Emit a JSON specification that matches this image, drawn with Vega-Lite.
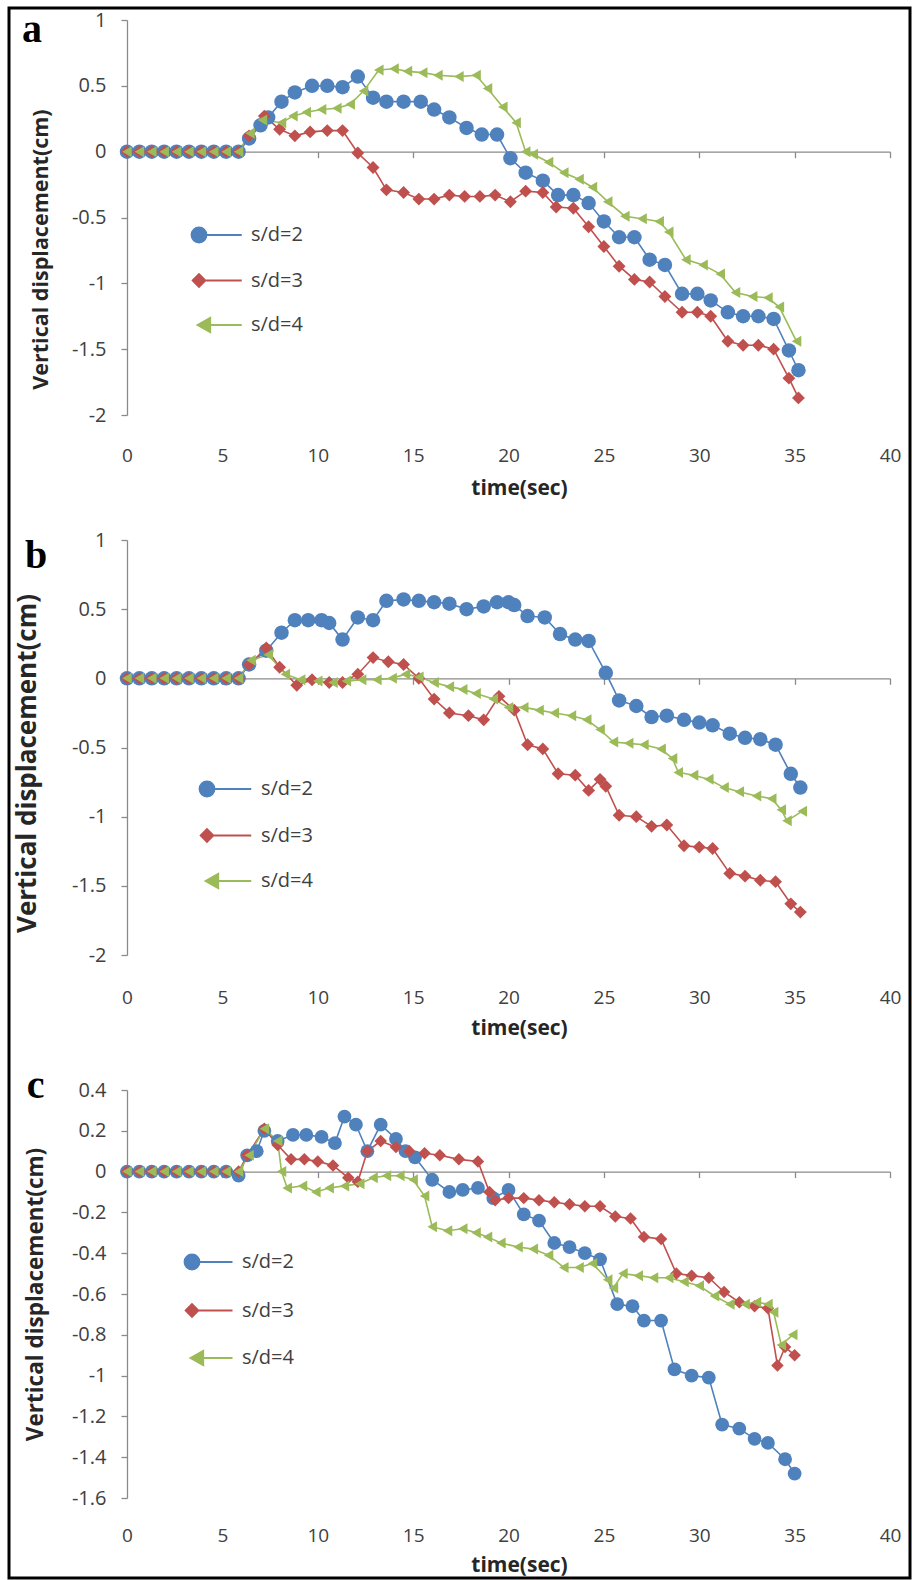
{
  "$schema": "https://vega.github.io/schema/vega-lite/v6.json",
  "width": 901,
  "height": 1570,
  "autosize": "none",
  "padding": {"left": 9, "top": 8, "right": 2, "bottom": 2},
  "background": "white",
  "config": {
    "view": {"stroke": "#000000", "strokeWidth": 3},
    "font": "Open Sans",
    "axis": {
      "grid": false,
      "labelFont": "Open Sans",
      "labelFontSize": 19,
      "labelColor": "#404040",
      "titleFont": "Open Sans",
      "titleFontWeight": "bold",
      "titleColor": "#262626",
      "domainColor": "#8a8a8a",
      "domainWidth": 1.3,
      "tickColor": "#8a8a8a",
      "tickWidth": 1.3,
      "labelFlush": false,
      "labelOverlap": false,
      "labelBound": false
    },
    "legend": {
      "labelFont": "Open Sans",
      "labelFontSize": 20,
      "labelColor": "#404040",
      "symbolSize": 225,
      "symbolStrokeWidth": 1.8,
      "symbolOpacity": 1
    }
  },
  "datasets": {
    "a": [
      {"t":0,"v":0,"series":"s/d=2"},{"t":0.65,"v":0,"series":"s/d=2"},{"t":1.3,"v":0,"series":"s/d=2"},{"t":1.95,"v":0,"series":"s/d=2"},{"t":2.6,"v":0,"series":"s/d=2"},{"t":3.25,"v":0,"series":"s/d=2"},{"t":3.9,"v":0,"series":"s/d=2"},{"t":4.55,"v":0,"series":"s/d=2"},{"t":5.2,"v":0,"series":"s/d=2"},{"t":5.85,"v":0,"series":"s/d=2"},
      {"t":6.4,"v":0.1,"series":"s/d=2"},{"t":7.0,"v":0.2,"series":"s/d=2"},{"t":7.4,"v":0.26,"series":"s/d=2"},{"t":8.1,"v":0.38,"series":"s/d=2"},{"t":8.8,"v":0.45,"series":"s/d=2"},{"t":9.7,"v":0.5,"series":"s/d=2"},{"t":10.5,"v":0.5,"series":"s/d=2"},{"t":11.3,"v":0.49,"series":"s/d=2"},{"t":12.1,"v":0.57,"series":"s/d=2"},{"t":12.9,"v":0.41,"series":"s/d=2"},{"t":13.6,"v":0.38,"series":"s/d=2"},{"t":14.5,"v":0.38,"series":"s/d=2"},{"t":15.4,"v":0.38,"series":"s/d=2"},{"t":16.1,"v":0.32,"series":"s/d=2"},{"t":16.9,"v":0.26,"series":"s/d=2"},{"t":17.8,"v":0.18,"series":"s/d=2"},{"t":18.6,"v":0.13,"series":"s/d=2"},{"t":19.4,"v":0.13,"series":"s/d=2"},{"t":20.1,"v":-0.05,"series":"s/d=2"},{"t":20.9,"v":-0.16,"series":"s/d=2"},{"t":21.8,"v":-0.22,"series":"s/d=2"},{"t":22.6,"v":-0.33,"series":"s/d=2"},{"t":23.4,"v":-0.33,"series":"s/d=2"},{"t":24.2,"v":-0.39,"series":"s/d=2"},{"t":25.0,"v":-0.53,"series":"s/d=2"},{"t":25.8,"v":-0.65,"series":"s/d=2"},{"t":26.6,"v":-0.65,"series":"s/d=2"},{"t":27.4,"v":-0.82,"series":"s/d=2"},{"t":28.2,"v":-0.86,"series":"s/d=2"},{"t":29.1,"v":-1.08,"series":"s/d=2"},{"t":29.9,"v":-1.08,"series":"s/d=2"},{"t":30.6,"v":-1.13,"series":"s/d=2"},{"t":31.5,"v":-1.22,"series":"s/d=2"},{"t":32.3,"v":-1.25,"series":"s/d=2"},{"t":33.1,"v":-1.25,"series":"s/d=2"},{"t":33.9,"v":-1.27,"series":"s/d=2"},{"t":34.7,"v":-1.51,"series":"s/d=2"},{"t":35.2,"v":-1.66,"series":"s/d=2"},
      {"t":0,"v":0,"series":"s/d=3"},{"t":0.65,"v":0,"series":"s/d=3"},{"t":1.3,"v":0,"series":"s/d=3"},{"t":1.95,"v":0,"series":"s/d=3"},{"t":2.6,"v":0,"series":"s/d=3"},{"t":3.25,"v":0,"series":"s/d=3"},{"t":3.9,"v":0,"series":"s/d=3"},{"t":4.55,"v":0,"series":"s/d=3"},{"t":5.2,"v":0,"series":"s/d=3"},{"t":5.85,"v":0,"series":"s/d=3"},
      {"t":6.4,"v":0.12,"series":"s/d=3"},{"t":7.2,"v":0.27,"series":"s/d=3"},{"t":8.0,"v":0.17,"series":"s/d=3"},{"t":8.8,"v":0.12,"series":"s/d=3"},{"t":9.6,"v":0.15,"series":"s/d=3"},{"t":10.5,"v":0.16,"series":"s/d=3"},{"t":11.3,"v":0.16,"series":"s/d=3"},{"t":12.1,"v":-0.01,"series":"s/d=3"},{"t":12.9,"v":-0.12,"series":"s/d=3"},{"t":13.6,"v":-0.29,"series":"s/d=3"},{"t":14.5,"v":-0.31,"series":"s/d=3"},{"t":15.3,"v":-0.36,"series":"s/d=3"},{"t":16.1,"v":-0.36,"series":"s/d=3"},{"t":16.9,"v":-0.33,"series":"s/d=3"},{"t":17.7,"v":-0.34,"series":"s/d=3"},{"t":18.5,"v":-0.34,"series":"s/d=3"},{"t":19.3,"v":-0.33,"series":"s/d=3"},{"t":20.1,"v":-0.38,"series":"s/d=3"},{"t":20.9,"v":-0.3,"series":"s/d=3"},{"t":21.8,"v":-0.31,"series":"s/d=3"},{"t":22.5,"v":-0.42,"series":"s/d=3"},{"t":23.4,"v":-0.43,"series":"s/d=3"},{"t":24.2,"v":-0.57,"series":"s/d=3"},{"t":25.0,"v":-0.72,"series":"s/d=3"},{"t":25.8,"v":-0.87,"series":"s/d=3"},{"t":26.6,"v":-0.97,"series":"s/d=3"},{"t":27.4,"v":-0.99,"series":"s/d=3"},{"t":28.2,"v":-1.1,"series":"s/d=3"},{"t":29.1,"v":-1.22,"series":"s/d=3"},{"t":29.9,"v":-1.22,"series":"s/d=3"},{"t":30.6,"v":-1.25,"series":"s/d=3"},{"t":31.5,"v":-1.44,"series":"s/d=3"},{"t":32.3,"v":-1.47,"series":"s/d=3"},{"t":33.1,"v":-1.47,"series":"s/d=3"},{"t":33.9,"v":-1.5,"series":"s/d=3"},{"t":34.7,"v":-1.72,"series":"s/d=3"},{"t":35.2,"v":-1.87,"series":"s/d=3"},
      {"t":0,"v":0,"series":"s/d=4"},{"t":0.65,"v":0,"series":"s/d=4"},{"t":1.3,"v":0,"series":"s/d=4"},{"t":1.95,"v":0,"series":"s/d=4"},{"t":2.6,"v":0,"series":"s/d=4"},{"t":3.25,"v":0,"series":"s/d=4"},{"t":3.9,"v":0,"series":"s/d=4"},{"t":4.55,"v":0,"series":"s/d=4"},{"t":5.2,"v":0,"series":"s/d=4"},{"t":5.85,"v":0,"series":"s/d=4"},
      {"t":6.45,"v":0.14,"series":"s/d=4"},{"t":7.1,"v":0.24,"series":"s/d=4"},{"t":8.1,"v":0.22,"series":"s/d=4"},{"t":8.7,"v":0.27,"series":"s/d=4"},{"t":9.4,"v":0.3,"series":"s/d=4"},{"t":10.2,"v":0.32,"series":"s/d=4"},{"t":11.0,"v":0.33,"series":"s/d=4"},{"t":11.7,"v":0.36,"series":"s/d=4"},{"t":12.4,"v":0.46,"series":"s/d=4"},{"t":13.2,"v":0.62,"series":"s/d=4"},{"t":14.0,"v":0.63,"series":"s/d=4"},{"t":14.7,"v":0.61,"series":"s/d=4"},{"t":15.5,"v":0.6,"series":"s/d=4"},{"t":16.3,"v":0.58,"series":"s/d=4"},{"t":17.4,"v":0.57,"series":"s/d=4"},{"t":18.3,"v":0.58,"series":"s/d=4"},{"t":18.9,"v":0.48,"series":"s/d=4"},{"t":19.7,"v":0.34,"series":"s/d=4"},{"t":20.4,"v":0.22,"series":"s/d=4"},{"t":20.9,"v":0.0,"series":"s/d=4"},{"t":21.3,"v":-0.02,"series":"s/d=4"},{"t":22.1,"v":-0.08,"series":"s/d=4"},{"t":22.9,"v":-0.16,"series":"s/d=4"},{"t":23.7,"v":-0.21,"series":"s/d=4"},{"t":24.4,"v":-0.27,"series":"s/d=4"},{"t":25.2,"v":-0.38,"series":"s/d=4"},{"t":26.1,"v":-0.49,"series":"s/d=4"},{"t":27.0,"v":-0.51,"series":"s/d=4"},{"t":27.9,"v":-0.53,"series":"s/d=4"},{"t":28.4,"v":-0.61,"series":"s/d=4"},{"t":29.3,"v":-0.82,"series":"s/d=4"},{"t":30.2,"v":-0.86,"series":"s/d=4"},{"t":31.1,"v":-0.93,"series":"s/d=4"},{"t":31.9,"v":-1.07,"series":"s/d=4"},{"t":32.8,"v":-1.1,"series":"s/d=4"},{"t":33.6,"v":-1.11,"series":"s/d=4"},{"t":34.2,"v":-1.18,"series":"s/d=4"},{"t":35.1,"v":-1.44,"series":"s/d=4"}
    ],
    "b": [
      {"t":0,"v":0,"series":"s/d=2"},{"t":0.65,"v":0,"series":"s/d=2"},{"t":1.3,"v":0,"series":"s/d=2"},{"t":1.95,"v":0,"series":"s/d=2"},{"t":2.6,"v":0,"series":"s/d=2"},{"t":3.25,"v":0,"series":"s/d=2"},{"t":3.9,"v":0,"series":"s/d=2"},{"t":4.55,"v":0,"series":"s/d=2"},{"t":5.2,"v":0,"series":"s/d=2"},{"t":5.85,"v":0,"series":"s/d=2"},
      {"t":6.4,"v":0.1,"series":"s/d=2"},{"t":7.3,"v":0.2,"series":"s/d=2"},{"t":8.1,"v":0.33,"series":"s/d=2"},{"t":8.8,"v":0.42,"series":"s/d=2"},{"t":9.5,"v":0.42,"series":"s/d=2"},{"t":10.2,"v":0.42,"series":"s/d=2"},{"t":10.6,"v":0.4,"series":"s/d=2"},{"t":11.3,"v":0.28,"series":"s/d=2"},{"t":12.1,"v":0.44,"series":"s/d=2"},{"t":12.9,"v":0.42,"series":"s/d=2"},{"t":13.6,"v":0.56,"series":"s/d=2"},{"t":14.5,"v":0.57,"series":"s/d=2"},{"t":15.3,"v":0.56,"series":"s/d=2"},{"t":16.1,"v":0.55,"series":"s/d=2"},{"t":16.9,"v":0.54,"series":"s/d=2"},{"t":17.8,"v":0.5,"series":"s/d=2"},{"t":18.7,"v":0.52,"series":"s/d=2"},{"t":19.4,"v":0.55,"series":"s/d=2"},{"t":20.0,"v":0.55,"series":"s/d=2"},{"t":20.3,"v":0.53,"series":"s/d=2"},{"t":21.0,"v":0.45,"series":"s/d=2"},{"t":21.9,"v":0.44,"series":"s/d=2"},{"t":22.7,"v":0.32,"series":"s/d=2"},{"t":23.5,"v":0.28,"series":"s/d=2"},{"t":24.2,"v":0.27,"series":"s/d=2"},{"t":25.1,"v":0.04,"series":"s/d=2"},{"t":25.8,"v":-0.16,"series":"s/d=2"},{"t":26.7,"v":-0.2,"series":"s/d=2"},{"t":27.5,"v":-0.28,"series":"s/d=2"},{"t":28.3,"v":-0.27,"series":"s/d=2"},{"t":29.2,"v":-0.3,"series":"s/d=2"},{"t":30.0,"v":-0.32,"series":"s/d=2"},{"t":30.7,"v":-0.34,"series":"s/d=2"},{"t":31.6,"v":-0.4,"series":"s/d=2"},{"t":32.4,"v":-0.43,"series":"s/d=2"},{"t":33.2,"v":-0.44,"series":"s/d=2"},{"t":34.0,"v":-0.48,"series":"s/d=2"},{"t":34.8,"v":-0.69,"series":"s/d=2"},{"t":35.3,"v":-0.79,"series":"s/d=2"},
      {"t":0,"v":0,"series":"s/d=3"},{"t":0.65,"v":0,"series":"s/d=3"},{"t":1.3,"v":0,"series":"s/d=3"},{"t":1.95,"v":0,"series":"s/d=3"},{"t":2.6,"v":0,"series":"s/d=3"},{"t":3.25,"v":0,"series":"s/d=3"},{"t":3.9,"v":0,"series":"s/d=3"},{"t":4.55,"v":0,"series":"s/d=3"},{"t":5.2,"v":0,"series":"s/d=3"},{"t":5.85,"v":0,"series":"s/d=3"},
      {"t":6.4,"v":0.1,"series":"s/d=3"},{"t":7.3,"v":0.22,"series":"s/d=3"},{"t":8.0,"v":0.08,"series":"s/d=3"},{"t":8.9,"v":-0.05,"series":"s/d=3"},{"t":9.7,"v":-0.01,"series":"s/d=3"},{"t":10.6,"v":-0.03,"series":"s/d=3"},{"t":11.3,"v":-0.03,"series":"s/d=3"},{"t":12.1,"v":0.03,"series":"s/d=3"},{"t":12.9,"v":0.15,"series":"s/d=3"},{"t":13.7,"v":0.12,"series":"s/d=3"},{"t":14.5,"v":0.1,"series":"s/d=3"},{"t":15.3,"v":0.0,"series":"s/d=3"},{"t":16.1,"v":-0.15,"series":"s/d=3"},{"t":16.9,"v":-0.25,"series":"s/d=3"},{"t":17.9,"v":-0.27,"series":"s/d=3"},{"t":18.7,"v":-0.3,"series":"s/d=3"},{"t":19.5,"v":-0.13,"series":"s/d=3"},{"t":20.3,"v":-0.23,"series":"s/d=3"},{"t":21.0,"v":-0.48,"series":"s/d=3"},{"t":21.8,"v":-0.51,"series":"s/d=3"},{"t":22.6,"v":-0.69,"series":"s/d=3"},{"t":23.5,"v":-0.7,"series":"s/d=3"},{"t":24.2,"v":-0.81,"series":"s/d=3"},{"t":24.8,"v":-0.73,"series":"s/d=3"},{"t":25.1,"v":-0.78,"series":"s/d=3"},{"t":25.8,"v":-0.99,"series":"s/d=3"},{"t":26.7,"v":-1.0,"series":"s/d=3"},{"t":27.5,"v":-1.07,"series":"s/d=3"},{"t":28.3,"v":-1.06,"series":"s/d=3"},{"t":29.2,"v":-1.21,"series":"s/d=3"},{"t":30.0,"v":-1.22,"series":"s/d=3"},{"t":30.7,"v":-1.23,"series":"s/d=3"},{"t":31.6,"v":-1.41,"series":"s/d=3"},{"t":32.4,"v":-1.43,"series":"s/d=3"},{"t":33.2,"v":-1.46,"series":"s/d=3"},{"t":34.0,"v":-1.47,"series":"s/d=3"},{"t":34.8,"v":-1.63,"series":"s/d=3"},{"t":35.3,"v":-1.69,"series":"s/d=3"},
      {"t":0,"v":0,"series":"s/d=4"},{"t":0.65,"v":0,"series":"s/d=4"},{"t":1.3,"v":0,"series":"s/d=4"},{"t":1.95,"v":0,"series":"s/d=4"},{"t":2.6,"v":0,"series":"s/d=4"},{"t":3.25,"v":0,"series":"s/d=4"},{"t":3.9,"v":0,"series":"s/d=4"},{"t":4.55,"v":0,"series":"s/d=4"},{"t":5.2,"v":0,"series":"s/d=4"},{"t":5.85,"v":0,"series":"s/d=4"},
      {"t":6.5,"v":0.13,"series":"s/d=4"},{"t":7.4,"v":0.17,"series":"s/d=4"},{"t":8.3,"v":0.03,"series":"s/d=4"},{"t":9.1,"v":-0.01,"series":"s/d=4"},{"t":10.0,"v":-0.02,"series":"s/d=4"},{"t":10.8,"v":-0.03,"series":"s/d=4"},{"t":11.5,"v":-0.02,"series":"s/d=4"},{"t":12.3,"v":-0.01,"series":"s/d=4"},{"t":13.1,"v":-0.01,"series":"s/d=4"},{"t":13.9,"v":0.0,"series":"s/d=4"},{"t":14.6,"v":0.03,"series":"s/d=4"},{"t":15.3,"v":0.01,"series":"s/d=4"},{"t":16.1,"v":-0.03,"series":"s/d=4"},{"t":16.9,"v":-0.06,"series":"s/d=4"},{"t":17.6,"v":-0.08,"series":"s/d=4"},{"t":18.3,"v":-0.11,"series":"s/d=4"},{"t":19.2,"v":-0.15,"series":"s/d=4"},{"t":20.0,"v":-0.21,"series":"s/d=4"},{"t":20.8,"v":-0.21,"series":"s/d=4"},{"t":21.6,"v":-0.23,"series":"s/d=4"},{"t":22.4,"v":-0.25,"series":"s/d=4"},{"t":23.3,"v":-0.27,"series":"s/d=4"},{"t":24.1,"v":-0.3,"series":"s/d=4"},{"t":24.8,"v":-0.37,"series":"s/d=4"},{"t":25.5,"v":-0.46,"series":"s/d=4"},{"t":26.3,"v":-0.47,"series":"s/d=4"},{"t":27.1,"v":-0.48,"series":"s/d=4"},{"t":28.0,"v":-0.51,"series":"s/d=4"},{"t":28.6,"v":-0.58,"series":"s/d=4"},{"t":28.9,"v":-0.68,"series":"s/d=4"},{"t":29.7,"v":-0.7,"series":"s/d=4"},{"t":30.5,"v":-0.73,"series":"s/d=4"},{"t":31.3,"v":-0.79,"series":"s/d=4"},{"t":32.1,"v":-0.82,"series":"s/d=4"},{"t":33.0,"v":-0.85,"series":"s/d=4"},{"t":33.8,"v":-0.87,"series":"s/d=4"},{"t":34.3,"v":-0.95,"series":"s/d=4"},{"t":34.6,"v":-1.03,"series":"s/d=4"},{"t":35.4,"v":-0.96,"series":"s/d=4"}
    ],
    "c": [
      {"t":0,"v":0,"series":"s/d=2"},{"t":0.65,"v":0,"series":"s/d=2"},{"t":1.3,"v":0,"series":"s/d=2"},{"t":1.95,"v":0,"series":"s/d=2"},{"t":2.6,"v":0,"series":"s/d=2"},{"t":3.25,"v":0,"series":"s/d=2"},{"t":3.9,"v":0,"series":"s/d=2"},{"t":4.55,"v":0,"series":"s/d=2"},{"t":5.2,"v":0,"series":"s/d=2"},{"t":5.85,"v":-0.02,"series":"s/d=2"},
      {"t":6.3,"v":0.08,"series":"s/d=2"},{"t":6.8,"v":0.1,"series":"s/d=2"},{"t":7.2,"v":0.2,"series":"s/d=2"},{"t":7.9,"v":0.15,"series":"s/d=2"},{"t":8.7,"v":0.18,"series":"s/d=2"},{"t":9.4,"v":0.18,"series":"s/d=2"},{"t":10.2,"v":0.17,"series":"s/d=2"},{"t":10.9,"v":0.14,"series":"s/d=2"},{"t":11.4,"v":0.27,"series":"s/d=2"},{"t":12.0,"v":0.23,"series":"s/d=2"},{"t":12.6,"v":0.1,"series":"s/d=2"},{"t":13.3,"v":0.23,"series":"s/d=2"},{"t":14.1,"v":0.16,"series":"s/d=2"},{"t":14.6,"v":0.1,"series":"s/d=2"},{"t":15.1,"v":0.07,"series":"s/d=2"},{"t":16.0,"v":-0.04,"series":"s/d=2"},{"t":16.9,"v":-0.1,"series":"s/d=2"},{"t":17.6,"v":-0.09,"series":"s/d=2"},{"t":18.4,"v":-0.08,"series":"s/d=2"},{"t":19.2,"v":-0.13,"series":"s/d=2"},{"t":20.0,"v":-0.09,"series":"s/d=2"},{"t":20.8,"v":-0.21,"series":"s/d=2"},{"t":21.6,"v":-0.24,"series":"s/d=2"},{"t":22.4,"v":-0.35,"series":"s/d=2"},{"t":23.2,"v":-0.37,"series":"s/d=2"},{"t":24.0,"v":-0.4,"series":"s/d=2"},{"t":24.8,"v":-0.43,"series":"s/d=2"},{"t":25.7,"v":-0.65,"series":"s/d=2"},{"t":26.5,"v":-0.66,"series":"s/d=2"},{"t":27.1,"v":-0.73,"series":"s/d=2"},{"t":28.0,"v":-0.73,"series":"s/d=2"},{"t":28.7,"v":-0.97,"series":"s/d=2"},{"t":29.6,"v":-1.0,"series":"s/d=2"},{"t":30.5,"v":-1.01,"series":"s/d=2"},{"t":31.2,"v":-1.24,"series":"s/d=2"},{"t":32.1,"v":-1.26,"series":"s/d=2"},{"t":32.9,"v":-1.31,"series":"s/d=2"},{"t":33.6,"v":-1.33,"series":"s/d=2"},{"t":34.5,"v":-1.41,"series":"s/d=2"},{"t":35.0,"v":-1.48,"series":"s/d=2"},
      {"t":0,"v":0,"series":"s/d=3"},{"t":0.65,"v":0,"series":"s/d=3"},{"t":1.3,"v":0,"series":"s/d=3"},{"t":1.95,"v":0,"series":"s/d=3"},{"t":2.6,"v":0,"series":"s/d=3"},{"t":3.25,"v":0,"series":"s/d=3"},{"t":3.9,"v":0,"series":"s/d=3"},{"t":4.55,"v":0,"series":"s/d=3"},{"t":5.2,"v":0,"series":"s/d=3"},{"t":5.85,"v":0,"series":"s/d=3"},
      {"t":6.3,"v":0.08,"series":"s/d=3"},{"t":7.2,"v":0.21,"series":"s/d=3"},{"t":7.9,"v":0.13,"series":"s/d=3"},{"t":8.6,"v":0.06,"series":"s/d=3"},{"t":9.3,"v":0.06,"series":"s/d=3"},{"t":10.0,"v":0.05,"series":"s/d=3"},{"t":10.8,"v":0.03,"series":"s/d=3"},{"t":11.6,"v":-0.03,"series":"s/d=3"},{"t":12.1,"v":-0.05,"series":"s/d=3"},{"t":12.6,"v":0.1,"series":"s/d=3"},{"t":13.3,"v":0.15,"series":"s/d=3"},{"t":14.1,"v":0.12,"series":"s/d=3"},{"t":14.8,"v":0.1,"series":"s/d=3"},{"t":15.6,"v":0.09,"series":"s/d=3"},{"t":16.4,"v":0.08,"series":"s/d=3"},{"t":17.4,"v":0.06,"series":"s/d=3"},{"t":18.4,"v":0.05,"series":"s/d=3"},{"t":19.0,"v":-0.1,"series":"s/d=3"},{"t":19.3,"v":-0.14,"series":"s/d=3"},{"t":20.0,"v":-0.13,"series":"s/d=3"},{"t":20.8,"v":-0.13,"series":"s/d=3"},{"t":21.6,"v":-0.14,"series":"s/d=3"},{"t":22.4,"v":-0.15,"series":"s/d=3"},{"t":23.2,"v":-0.16,"series":"s/d=3"},{"t":24.0,"v":-0.17,"series":"s/d=3"},{"t":24.8,"v":-0.17,"series":"s/d=3"},{"t":25.6,"v":-0.22,"series":"s/d=3"},{"t":26.4,"v":-0.23,"series":"s/d=3"},{"t":27.1,"v":-0.32,"series":"s/d=3"},{"t":28.0,"v":-0.33,"series":"s/d=3"},{"t":28.8,"v":-0.5,"series":"s/d=3"},{"t":29.6,"v":-0.51,"series":"s/d=3"},{"t":30.5,"v":-0.52,"series":"s/d=3"},{"t":31.3,"v":-0.59,"series":"s/d=3"},{"t":32.1,"v":-0.64,"series":"s/d=3"},{"t":32.9,"v":-0.66,"series":"s/d=3"},{"t":33.6,"v":-0.67,"series":"s/d=3"},{"t":34.1,"v":-0.95,"series":"s/d=3"},{"t":34.5,"v":-0.86,"series":"s/d=3"},{"t":35.0,"v":-0.9,"series":"s/d=3"},
      {"t":0,"v":0,"series":"s/d=4"},{"t":0.65,"v":0,"series":"s/d=4"},{"t":1.3,"v":0,"series":"s/d=4"},{"t":1.95,"v":0,"series":"s/d=4"},{"t":2.6,"v":0,"series":"s/d=4"},{"t":3.25,"v":0,"series":"s/d=4"},{"t":3.9,"v":0,"series":"s/d=4"},{"t":4.55,"v":0,"series":"s/d=4"},{"t":5.2,"v":0,"series":"s/d=4"},{"t":5.85,"v":0,"series":"s/d=4"},
      {"t":6.4,"v":0.08,"series":"s/d=4"},{"t":7.2,"v":0.21,"series":"s/d=4"},{"t":7.9,"v":0.15,"series":"s/d=4"},{"t":8.1,"v":0.0,"series":"s/d=4"},{"t":8.4,"v":-0.08,"series":"s/d=4"},{"t":9.2,"v":-0.07,"series":"s/d=4"},{"t":9.9,"v":-0.1,"series":"s/d=4"},{"t":10.6,"v":-0.08,"series":"s/d=4"},{"t":11.4,"v":-0.07,"series":"s/d=4"},{"t":12.2,"v":-0.06,"series":"s/d=4"},{"t":12.9,"v":-0.03,"series":"s/d=4"},{"t":13.6,"v":-0.02,"series":"s/d=4"},{"t":14.3,"v":-0.02,"series":"s/d=4"},{"t":15.0,"v":-0.04,"series":"s/d=4"},{"t":15.6,"v":-0.12,"series":"s/d=4"},{"t":16.0,"v":-0.27,"series":"s/d=4"},{"t":16.8,"v":-0.29,"series":"s/d=4"},{"t":17.6,"v":-0.28,"series":"s/d=4"},{"t":18.3,"v":-0.3,"series":"s/d=4"},{"t":18.9,"v":-0.32,"series":"s/d=4"},{"t":19.6,"v":-0.35,"series":"s/d=4"},{"t":20.5,"v":-0.37,"series":"s/d=4"},{"t":21.3,"v":-0.38,"series":"s/d=4"},{"t":22.1,"v":-0.41,"series":"s/d=4"},{"t":22.9,"v":-0.47,"series":"s/d=4"},{"t":23.7,"v":-0.47,"series":"s/d=4"},{"t":24.4,"v":-0.45,"series":"s/d=4"},{"t":25.2,"v":-0.53,"series":"s/d=4"},{"t":25.5,"v":-0.57,"series":"s/d=4"},{"t":26.0,"v":-0.5,"series":"s/d=4"},{"t":26.8,"v":-0.51,"series":"s/d=4"},{"t":27.6,"v":-0.52,"series":"s/d=4"},{"t":28.4,"v":-0.52,"series":"s/d=4"},{"t":29.2,"v":-0.54,"series":"s/d=4"},{"t":30.0,"v":-0.56,"series":"s/d=4"},{"t":30.8,"v":-0.61,"series":"s/d=4"},{"t":31.6,"v":-0.65,"series":"s/d=4"},{"t":32.4,"v":-0.65,"series":"s/d=4"},{"t":33.0,"v":-0.64,"series":"s/d=4"},{"t":33.6,"v":-0.65,"series":"s/d=4"},{"t":33.9,"v":-0.69,"series":"s/d=4"},{"t":34.3,"v":-0.85,"series":"s/d=4"},{"t":34.9,"v":-0.8,"series":"s/d=4"}
    ]
  },
  "layer": [
    {
      "data": {"name": "a"},
      "mark": {"type": "line", "strokeWidth": 1.6},
      "encoding": {
        "x": {"field": "t", "type": "quantitative",
          "scale": {"domain": [0, 40], "range": [118, 881], "nice": false, "zero": false},
          "axis": {"orient": "bottom", "offset": -1123, "values": [0,5,10,15,20,25,30,35,40], "labelExpr": "toString(datum.value)", "domain": false, "ticks": false, "tickSize": 0, "labelPadding": 0, "labelBaseline": "middle", "title": "time(sec)", "titleFontSize": 21, "titleX": 510, "titleY": 33, "titleBaseline": "middle"}},
        "y": {"field": "v", "type": "quantitative",
          "scale": {"domain": [-2, 1], "range": [407, 12], "nice": false, "zero": false},
          "axis": {"orient": "left", "offset": -118, "values": [-2,-1.5,-1,-0.5,0,0.5,1], "labelExpr": "toString(datum.value)", "tickSize": 6, "labelPadding": 15, "labelFontSize": 20, "title": "Vertical displacement(cm)", "titleFontSize": 21.5, "titleX": -86, "titleY": 241, "titleBaseline": "middle"}},
        "color": {"field": "series", "type": "nominal", "scale": {"domain": ["s/d=2","s/d=3","s/d=4"], "range": ["#4F81BD","#C0504D","#9BBB59"]}, "legend": null}
      }
    },
    {
      "data": {"name": "a"},
      "mark": {"type": "point", "filled": true, "opacity": 1},
      "encoding": {
        "x": {"field": "t", "type": "quantitative",
          "scale": {"domain": [0, 40], "range": [118, 881], "nice": false, "zero": false},
          "axis": {"orient": "bottom", "offset": -1426.33, "values": [0,5,10,15,20,25,30,35,40], "labels": false, "ticks": true, "tickSize": 6, "title": null}},
        "y": {"field": "v", "type": "quantitative",
          "scale": {"domain": [-2, 1], "range": [407, 12], "nice": false, "zero": false}, "axis": null},
        "color": {"field": "series", "type": "nominal", "scale": {"domain": ["s/d=2","s/d=3","s/d=4"], "range": ["#4F81BD","#C0504D","#9BBB59"]}, "legend": null},
        "shape": {"field": "series", "type": "nominal", "scale": {"domain": ["s/d=2","s/d=3","s/d=4"], "range": ["circle","diamond","triangle-left"]}, "legend": null},
        "size": {"field": "series", "type": "ordinal", "scale": {"domain": ["s/d=2","s/d=3","s/d=4"], "range": [210, 121, 150]}, "legend": null}
      }
    },
    {
      "data": {"name": "a"},
      "mark": {"type": "point", "filled": true, "opacity": 0},
      "encoding": {
        "x": {"field": "t", "type": "quantitative", "scale": {"domain": [0, 40], "range": [118, 881], "nice": false, "zero": false}, "axis": null},
        "y": {"field": "v", "type": "quantitative", "scale": {"domain": [-2, 1], "range": [407, 12], "nice": false, "zero": false}, "axis": null},
        "fill": {"field": "series", "type": "nominal", "scale": {"domain": ["s/d=2","s/d=3","s/d=4"], "range": ["#4F81BD","#C0504D","#9BBB59"]},
          "legend": {"orient": "none", "legendX": 180, "legendY": 217, "title": null, "rowPadding": 23.5, "labelOffset": 42}},
        "stroke": {"field": "series", "type": "nominal", "scale": {"domain": ["s/d=2","s/d=3","s/d=4"], "range": ["#4F81BD","#C0504D","#9BBB59"]},
          "legend": {"orient": "none", "legendX": 180, "legendY": 217, "title": null, "rowPadding": 23.5, "labelOffset": 42}},
        "shape": {"field": "series", "type": "nominal", "scale": {"domain": ["s/d=2","s/d=3","s/d=4"], "range": ["M-1,0A1,1,0,1,1,1,0A1,1,0,1,1,-1,0ZM1,0L5.7,0", "M-0.85,0L0,-0.85L0.85,0L0,0.85ZM0.85,0L5.7,0", "M-0.2,0L1.5,-0.95L1.5,0.95ZM1.5,0L5.7,0"]},
          "legend": {"orient": "none", "legendX": 180, "legendY": 217, "title": null, "rowPadding": 23.5, "labelOffset": 42}}
      }
    },
    {
      "data": {"values": [{"panel": "a"}]},
      "mark": {"type": "text", "font": "Liberation Serif", "fontWeight": "bold", "fontSize": 40, "align": "left", "baseline": "alphabetic", "color": "#000000"},
      "encoding": {
        "x": {"datum": -5.5, "type": "quantitative", "scale": {"domain": [0, 40], "range": [118, 881], "nice": false, "zero": false}, "axis": null},
        "y": {"datum": 0.83, "type": "quantitative", "scale": {"domain": [-2, 1], "range": [407, 12], "nice": false, "zero": false}, "axis": null},
        "text": {"field": "panel"}
      }
    },
    {
      "data": {"name": "b"},
      "mark": {"type": "line", "strokeWidth": 1.6},
      "encoding": {
        "x": {"field": "t", "type": "quantitative",
          "scale": {"domain": [0, 40], "range": [118, 881], "nice": false, "zero": false},
          "axis": {"orient": "bottom", "offset": -581, "values": [0,5,10,15,20,25,30,35,40], "labelExpr": "toString(datum.value)", "domain": false, "ticks": false, "tickSize": 0, "labelPadding": 0, "labelBaseline": "middle", "title": "time(sec)", "titleFontSize": 21, "titleX": 510, "titleY": 31, "titleBaseline": "middle"}},
        "y": {"field": "v", "type": "quantitative",
          "scale": {"domain": [-2, 1], "range": [947, 532], "nice": false, "zero": false},
          "axis": {"orient": "left", "offset": -118, "values": [-2,-1.5,-1,-0.5,0,0.5,1], "labelExpr": "toString(datum.value)", "tickSize": 6, "labelPadding": 15, "labelFontSize": 20, "title": "Vertical displacement(cm)", "titleFontSize": 26, "titleX": -100, "titleY": 755, "titleBaseline": "middle"}},
        "color": {"field": "series", "type": "nominal", "scale": {"domain": ["s/d=2","s/d=3","s/d=4"], "range": ["#4F81BD","#C0504D","#9BBB59"]}, "legend": null}
      }
    },
    {
      "data": {"name": "b"},
      "mark": {"type": "point", "filled": true, "opacity": 1},
      "encoding": {
        "x": {"field": "t", "type": "quantitative",
          "scale": {"domain": [0, 40], "range": [118, 881], "nice": false, "zero": false},
          "axis": {"orient": "bottom", "offset": -899.67, "values": [0,5,10,15,20,25,30,35,40], "labels": false, "ticks": true, "tickSize": 6, "title": null}},
        "y": {"field": "v", "type": "quantitative",
          "scale": {"domain": [-2, 1], "range": [947, 532], "nice": false, "zero": false}, "axis": null},
        "color": {"field": "series", "type": "nominal", "scale": {"domain": ["s/d=2","s/d=3","s/d=4"], "range": ["#4F81BD","#C0504D","#9BBB59"]}, "legend": null},
        "shape": {"field": "series", "type": "nominal", "scale": {"domain": ["s/d=2","s/d=3","s/d=4"], "range": ["circle","diamond","triangle-left"]}, "legend": null},
        "size": {"field": "series", "type": "ordinal", "scale": {"domain": ["s/d=2","s/d=3","s/d=4"], "range": [210, 121, 150]}, "legend": null}
      }
    },
    {
      "data": {"name": "b"},
      "mark": {"type": "point", "filled": true, "opacity": 0},
      "encoding": {
        "x": {"field": "t", "type": "quantitative", "scale": {"domain": [0, 40], "range": [118, 881], "nice": false, "zero": false}, "axis": null},
        "y": {"field": "v", "type": "quantitative", "scale": {"domain": [-2, 1], "range": [947, 532], "nice": false, "zero": false}, "axis": null},
        "fill": {"field": "series", "type": "nominal", "scale": {"domain": ["s/d=2","s/d=3","s/d=4"], "range": ["#4F81BD","#C0504D","#9BBB59"]},
          "legend": {"orient": "none", "legendX": 188, "legendY": 771, "title": null, "rowPadding": 24.5, "labelOffset": 44}},
        "stroke": {"field": "series", "type": "nominal", "scale": {"domain": ["s/d=2","s/d=3","s/d=4"], "range": ["#4F81BD","#C0504D","#9BBB59"]},
          "legend": {"orient": "none", "legendX": 188, "legendY": 771, "title": null, "rowPadding": 24.5, "labelOffset": 44}},
        "shape": {"field": "series", "type": "nominal", "scale": {"domain": ["s/d=2","s/d=3","s/d=4"], "range": ["M-1,0A1,1,0,1,1,1,0A1,1,0,1,1,-1,0ZM1,0L5.9,0", "M-0.85,0L0,-0.85L0.85,0L0,0.85ZM0.85,0L5.9,0", "M-0.2,0L1.5,-0.95L1.5,0.95ZM1.5,0L5.9,0"]},
          "legend": {"orient": "none", "legendX": 188, "legendY": 771, "title": null, "rowPadding": 24.5, "labelOffset": 44}}
      }
    },
    {
      "data": {"values": [{"panel": "b"}]},
      "mark": {"type": "text", "font": "Liberation Serif", "fontWeight": "bold", "fontSize": 40, "align": "left", "baseline": "alphabetic", "color": "#000000"},
      "encoding": {
        "x": {"datum": -5.35, "type": "quantitative", "scale": {"domain": [0, 40], "range": [118, 881], "nice": false, "zero": false}, "axis": null},
        "y": {"datum": 0.8, "type": "quantitative", "scale": {"domain": [-2, 1], "range": [947, 532], "nice": false, "zero": false}, "axis": null},
        "text": {"field": "panel"}
      }
    },
    {
      "data": {"name": "c"},
      "mark": {"type": "line", "strokeWidth": 1.6},
      "encoding": {
        "x": {"field": "t", "type": "quantitative",
          "scale": {"domain": [0, 40], "range": [118, 881], "nice": false, "zero": false},
          "axis": {"orient": "bottom", "offset": -43, "values": [0,5,10,15,20,25,30,35,40], "labelExpr": "toString(datum.value)", "domain": false, "ticks": false, "tickSize": 0, "labelPadding": 0, "labelBaseline": "middle", "title": "time(sec)", "titleFontSize": 21, "titleX": 510, "titleY": 30, "titleBaseline": "middle"}},
        "y": {"field": "v", "type": "quantitative",
          "scale": {"domain": [-1.6, 0.4], "range": [1490, 1082], "nice": false, "zero": false},
          "axis": {"orient": "left", "offset": -118, "values": [-1.6,-1.4,-1.2,-1,-0.8,-0.6,-0.4,-0.2,0,0.2,0.4], "labelExpr": "toString(datum.value)", "tickSize": 6, "labelPadding": 15, "labelFontSize": 20, "title": "Vertical displacement(cm)", "titleFontSize": 22.5, "titleX": -92, "titleY": 1286, "titleBaseline": "middle"}},
        "color": {"field": "series", "type": "nominal", "scale": {"domain": ["s/d=2","s/d=3","s/d=4"], "range": ["#4F81BD","#C0504D","#9BBB59"]}, "legend": null}
      }
    },
    {
      "data": {"name": "c"},
      "mark": {"type": "point", "filled": true, "opacity": 1},
      "encoding": {
        "x": {"field": "t", "type": "quantitative",
          "scale": {"domain": [0, 40], "range": [118, 881], "nice": false, "zero": false},
          "axis": {"orient": "bottom", "offset": -406.4, "values": [0,5,10,15,20,25,30,35,40], "labels": false, "ticks": true, "tickSize": 6, "title": null}},
        "y": {"field": "v", "type": "quantitative",
          "scale": {"domain": [-1.6, 0.4], "range": [1490, 1082], "nice": false, "zero": false}, "axis": null},
        "color": {"field": "series", "type": "nominal", "scale": {"domain": ["s/d=2","s/d=3","s/d=4"], "range": ["#4F81BD","#C0504D","#9BBB59"]}, "legend": null},
        "shape": {"field": "series", "type": "nominal", "scale": {"domain": ["s/d=2","s/d=3","s/d=4"], "range": ["circle","diamond","triangle-left"]}, "legend": null},
        "size": {"field": "series", "type": "ordinal", "scale": {"domain": ["s/d=2","s/d=3","s/d=4"], "range": [190, 121, 150]}, "legend": null}
      }
    },
    {
      "data": {"name": "c"},
      "mark": {"type": "point", "filled": true, "opacity": 0},
      "encoding": {
        "x": {"field": "t", "type": "quantitative", "scale": {"domain": [0, 40], "range": [118, 881], "nice": false, "zero": false}, "axis": null},
        "y": {"field": "v", "type": "quantitative", "scale": {"domain": [-1.6, 0.4], "range": [1490, 1082], "nice": false, "zero": false}, "axis": null},
        "fill": {"field": "series", "type": "nominal", "scale": {"domain": ["s/d=2","s/d=3","s/d=4"], "range": ["#4F81BD","#C0504D","#9BBB59"]},
          "legend": {"orient": "none", "legendX": 173, "legendY": 1244, "title": null, "rowPadding": 26.5, "labelOffset": 40}},
        "stroke": {"field": "series", "type": "nominal", "scale": {"domain": ["s/d=2","s/d=3","s/d=4"], "range": ["#4F81BD","#C0504D","#9BBB59"]},
          "legend": {"orient": "none", "legendX": 173, "legendY": 1244, "title": null, "rowPadding": 26.5, "labelOffset": 40}},
        "shape": {"field": "series", "type": "nominal", "scale": {"domain": ["s/d=2","s/d=3","s/d=4"], "range": ["M-1,0A1,1,0,1,1,1,0A1,1,0,1,1,-1,0ZM1,0L5.4,0", "M-0.85,0L0,-0.85L0.85,0L0,0.85ZM0.85,0L5.4,0", "M-0.2,0L1.5,-0.95L1.5,0.95ZM1.5,0L5.4,0"]},
          "legend": {"orient": "none", "legendX": 173, "legendY": 1244, "title": null, "rowPadding": 26.5, "labelOffset": 40}}
      }
    },
    {
      "data": {"values": [{"panel": "c"}]},
      "mark": {"type": "text", "font": "Liberation Serif", "fontWeight": "bold", "fontSize": 40, "align": "left", "baseline": "alphabetic", "color": "#000000"},
      "encoding": {
        "x": {"datum": -5.25, "type": "quantitative", "scale": {"domain": [0, 40], "range": [118, 881], "nice": false, "zero": false}, "axis": null},
        "y": {"datum": 0.36, "type": "quantitative", "scale": {"domain": [-1.6, 0.4], "range": [1490, 1082], "nice": false, "zero": false}, "axis": null},
        "text": {"field": "panel"}
      }
    }
  ],
  "resolve": {
    "scale": {"x": "independent", "y": "independent", "color": "independent", "fill": "independent", "stroke": "independent", "shape": "independent", "size": "independent"},
    "axis": {"x": "independent", "y": "independent"},
    "legend": {"color": "independent", "fill": "independent", "stroke": "independent", "shape": "independent", "size": "independent"}
  }
}
